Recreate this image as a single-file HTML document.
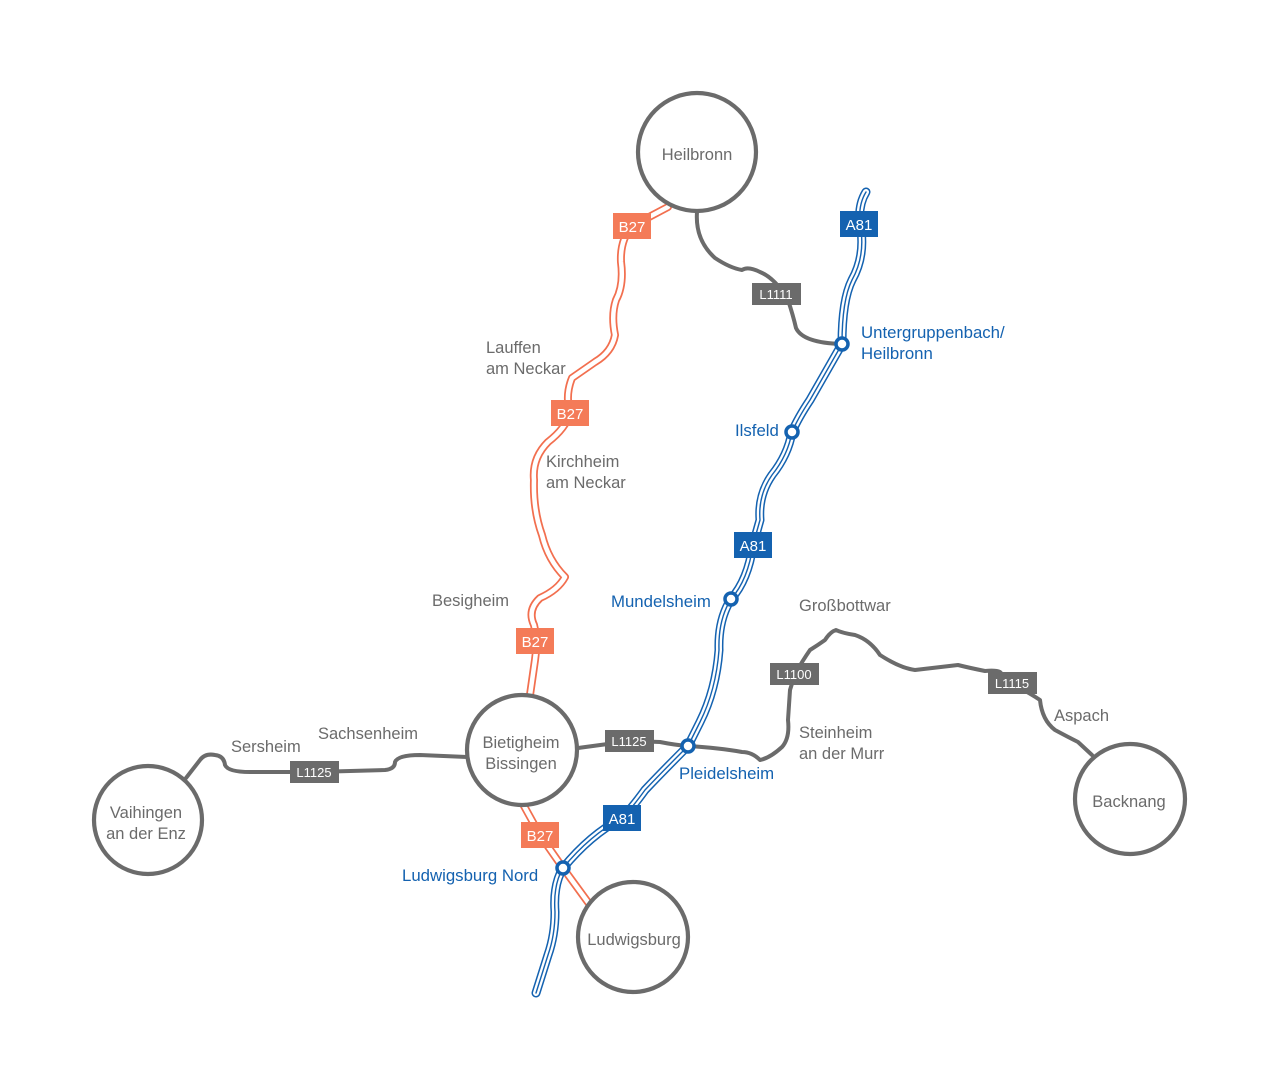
<!DOCTYPE html>
<html><head><meta charset="utf-8"><style>
html,body{margin:0;padding:0;background:#fff;}
svg{display:block;}
text{font-family:"Liberation Sans",sans-serif;}
.g{fill:#6b6b6b;font-size:16.5px;}
.b{fill:#1462b0;font-size:16.8px;}
.bt{fill:#fff;font-size:15px;text-anchor:middle;}
.lt{fill:#fff;font-size:13px;text-anchor:middle;}
</style></head><body>
<svg width="1280" height="1087" viewBox="0 0 1280 1087" xmlns="http://www.w3.org/2000/svg">
<defs>
<path id="b27a" d="M668,207 L632,226 Q620,240 621,262 Q624,285 616,300 Q611,315 615,335 Q612,352 595,362 L572,378 Q565,395 570,413 Q566,428 548,442 Q532,458 534,480 Q533,510 542,535 Q548,560 565,577 Q558,590 540,598 Q527,610 534,625 Q538,640 535,660 L530,695"/>
<path id="b27b" d="M524,806 L540,835 L563,868 L590,905"/>
<path id="a81" d="M866,192 Q858,205 860,224 Q866,255 852,280 Q842,300 842,344 Q826,372 810,400 Q798,418 792,432 Q788,455 772,475 Q758,495 760,520 L753,545 Q748,580 731,599 Q718,620 719,650 Q716,690 700,722 L688,746 Q662,772 645,790 Q632,808 622,818 Q590,835 563,868 Q553,885 555,912 Q555,935 548,955 L536,993"/>
</defs>
<g fill="none" stroke-linecap="round" stroke-linejoin="round">
<g stroke="#6b6b6b" stroke-width="4">
<path d="M697,212 Q695,240 715,258 Q730,268 742,270 Q748,266 760,272 Q775,278 788,300 Q793,315 796,328 Q803,343 842,344"/>
<path d="M186,778 L200,760 Q205,753 215,755 Q224,756 225,765 Q228,772 250,772 L314,772 L385,770 Q395,769 395,762 Q398,755 420,755 L467,757"/>
<path d="M578,748 L630,741 L660,742 Q675,745 688,746 Q720,748 742,752 Q752,752 760,760 Q770,758 782,747 Q790,738 788,720 L790,690 L795,674 Q803,660 810,650 Q818,645 825,640 Q830,632 836,630 Q842,633 855,635 Q870,640 880,655 Q900,668 915,670 L958,665 Q970,668 985,671 Q996,670 1000,672 L1012,684 Q1028,692 1040,700 Q1042,720 1055,730 Q1068,737 1078,742 L1092,755"/>
</g>
<use href="#b27a" stroke="#f26f4f" stroke-width="8"/>
<use href="#b27a" stroke="#fff" stroke-width="4.5"/>
<use href="#b27b" stroke="#f26f4f" stroke-width="8"/>
<use href="#b27b" stroke="#fff" stroke-width="4.5"/>
<g stroke="#6b6b6b" stroke-width="4.2" fill="#fff">
<circle cx="697" cy="152" r="59"/>
<circle cx="522" cy="750" r="55"/>
<circle cx="148" cy="820" r="54"/>
<circle cx="633" cy="937" r="55"/>
<circle cx="1130" cy="799" r="55"/>
</g>
<use href="#a81" stroke="#1462b0" stroke-width="9"/>
<use href="#a81" stroke="#fff" stroke-width="6"/>
<use href="#a81" stroke="#1462b0" stroke-width="1.4"/>
<g stroke="#1462b0" stroke-width="3.5" fill="#fff">
<circle cx="842" cy="344" r="6"/>
<circle cx="792" cy="432" r="6"/>
<circle cx="731" cy="599" r="6"/>
<circle cx="688" cy="746" r="6"/>
<circle cx="563" cy="868" r="6"/>
</g>
</g>
<g fill="#f47b58">
<rect x="613" y="213" width="38" height="26"/>
<rect x="551" y="400" width="38" height="26"/>
<rect x="516" y="628" width="38" height="26"/>
<rect x="521" y="822" width="38" height="26"/>
</g>
<text class="bt" x="632" y="232">B27</text>
<text class="bt" x="570" y="419">B27</text>
<text class="bt" x="535" y="647">B27</text>
<text class="bt" x="540" y="841">B27</text>
<g fill="#1462b0">
<rect x="840" y="211" width="38" height="26"/>
<rect x="734" y="532" width="38" height="26"/>
<rect x="603" y="805" width="38" height="26"/>
</g>
<text class="bt" x="859" y="230">A81</text>
<text class="bt" x="753" y="551">A81</text>
<text class="bt" x="622" y="824">A81</text>
<g fill="#6b6b6b">
<rect x="752" y="283" width="49" height="22"/>
<rect x="290" y="761" width="49" height="22"/>
<rect x="605" y="730" width="49" height="22"/>
<rect x="770" y="663" width="49" height="22"/>
<rect x="988" y="672" width="49" height="22"/>
</g>
<text class="lt" x="776" y="299">L1111</text>
<text class="lt" x="314" y="777">L1125</text>
<text class="lt" x="629" y="746">L1125</text>
<text class="lt" x="794" y="679">L1100</text>
<text class="lt" x="1012" y="688">L1115</text>
<g class="g" text-anchor="middle">
<text x="697" y="160">Heilbronn</text>
<text x="521" y="748">Bietigheim</text>
<text x="521" y="769">Bissingen</text>
<text x="146" y="818">Vaihingen</text>
<text x="146" y="839">an der Enz</text>
<text x="634" y="945">Ludwigsburg</text>
<text x="1129" y="807">Backnang</text>
</g>
<g class="g">
<text x="486" y="353">Lauffen</text>
<text x="486" y="374">am Neckar</text>
<text x="546" y="467">Kirchheim</text>
<text x="546" y="488">am Neckar</text>
<text x="432" y="606">Besigheim</text>
<text x="231" y="752">Sersheim</text>
<text x="318" y="739">Sachsenheim</text>
<text x="799" y="611">Großbottwar</text>
<text x="799" y="738">Steinheim</text>
<text x="799" y="759">an der Murr</text>
<text x="1054" y="721">Aspach</text>
</g>
<g class="b">
<text x="861" y="338">Untergruppenbach/</text>
<text x="861" y="359">Heilbronn</text>
<text x="735" y="436">Ilsfeld</text>
<text x="611" y="607">Mundelsheim</text>
<text x="679" y="779">Pleidelsheim</text>
<text x="402" y="881">Ludwigsburg Nord</text>
</g>
</svg>
</body></html>
